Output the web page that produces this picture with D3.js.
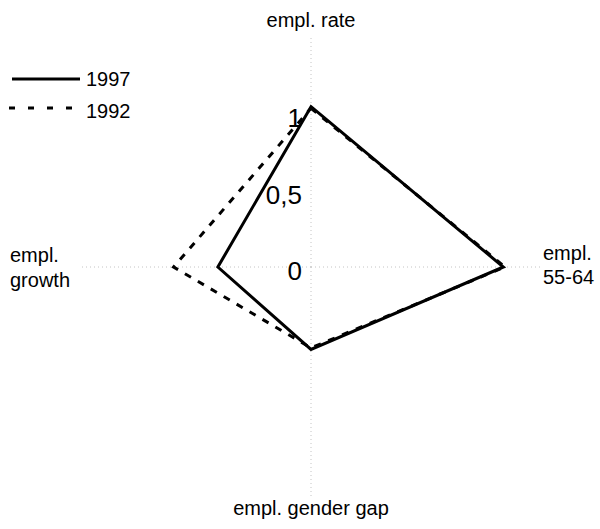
<!DOCTYPE html>
<html>
<head>
<meta charset="utf-8">
<script src="https://cdn.jsdelivr.net/npm/d3@7"></script>
<style>
  html, body { margin: 0; padding: 0; background: #fff; }
  svg { display: block; font-family: "Liberation Sans", Arial, sans-serif; }
</style>
</head>
<body>
<svg id="chart" width="600" height="529"></svg>
<script>
const axisNames = ["empl. rate", "empl. 55-64", "empl. gender gap", "empl. growth"];
const series1997 = [1.05, 1.26, 0.54, 0.61];
const series1992 = [1.04, 1.27, 0.53, 0.90];
const tickValues = [0, 0.5, 1];
const tickLabels = ["0", "0,5", "1"];
const seriesNames = ["1997", "1992"];

const svg = d3.select("#chart");
const cx = 311, cy = 267;
const r = d3.scaleLinear().domain([0, 1.5]).range([0, 229]);
const angle = d3.scalePoint().domain(axisNames).range([0, 2 * Math.PI * 3 / 4]);

const g = svg.append("g").attr("transform", `translate(${cx},${cy})`);

// spokes
axisNames.forEach(name => {
  const a = angle(name);
  g.append("line")
    .attr("x1", 0).attr("y1", 0)
    .attr("x2", r(1.5) * Math.sin(a))
    .attr("y2", -r(1.5) * Math.cos(a))
    .attr("stroke", "#c4c4c4")
    .attr("stroke-width", 1)
    .attr("stroke-dasharray", "1,3");
});

// tick labels
tickValues.forEach((v, i) => {
  g.append("text")
    .attr("x", -9)
    .attr("y", -r(v) + 13)
    .attr("text-anchor", "end")
    .attr("font-size", 26)
    .attr("fill", "#000")
    .text(tickLabels[i]);
});

const line = d3.lineRadial()
  .angle((d, i) => angle(axisNames[i]))
  .radius(d => r(d))
  .curve(d3.curveLinearClosed);

g.append("path")
  .attr("d", line(series1992))
  .attr("fill", "none")
  .attr("stroke", "#000")
  .attr("stroke-width", 3)
  .attr("stroke-dasharray", "7,8");

g.append("path")
  .attr("d", line(series1997))
  .attr("fill", "none")
  .attr("stroke", "#000")
  .attr("stroke-width", 3)
  .attr("stroke-linejoin", "miter");

// axis labels
const fs = 20;
svg.append("text").attr("x", cx).attr("y", 27).attr("text-anchor", "middle")
  .attr("font-size", fs).text(axisNames[0]);
svg.append("text").attr("x", cx).attr("y", 515).attr("text-anchor", "middle")
  .attr("font-size", fs).text(axisNames[2]);
const rightLbl = svg.append("text").attr("x", 543).attr("y", 260).attr("font-size", fs);
rightLbl.append("tspan").attr("x", 543).attr("y", 260).text(axisNames[1].split(" ")[0]);
rightLbl.append("tspan").attr("x", 543).attr("y", 284).text(axisNames[1].split(" ")[1]);
const leftLbl = svg.append("text").attr("font-size", fs);
leftLbl.append("tspan").attr("x", 10).attr("y", 262).text(axisNames[3].split(" ")[0]);
leftLbl.append("tspan").attr("x", 10).attr("y", 287).text(axisNames[3].split(" ")[1]);

// legend
const legend = svg.append("g");
legend.append("line").attr("x1", 12).attr("x2", 80).attr("y1", 79).attr("y2", 79)
  .attr("stroke", "#000").attr("stroke-width", 3);
legend.append("text").attr("x", 86).attr("y", 86).attr("font-size", fs).text(seriesNames[0]);
legend.append("line").attr("x1", 9).attr("x2", 80).attr("y1", 108).attr("y2", 108)
  .attr("stroke", "#000").attr("stroke-width", 3).attr("stroke-dasharray", "6,13");
legend.append("text").attr("x", 86).attr("y", 118).attr("font-size", fs).text(seriesNames[1]);
</script>
</body>
</html>
